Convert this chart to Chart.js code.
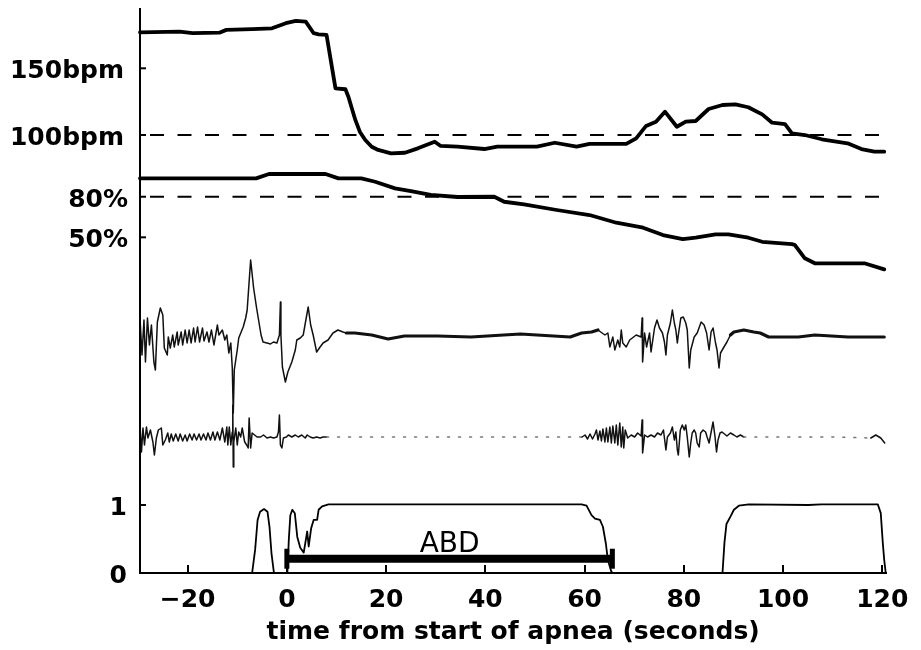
<!DOCTYPE html>
<html><head><meta charset="utf-8">
<script src="https://cdn.jsdelivr.net/npm/chart.js@4.4.1/dist/chart.umd.min.js"></script>
<style>html,body{margin:0;padding:0;background:#fff;}canvas{display:block;}</style>
</head><body>
<canvas id="c" width="921" height="650" style="width:921px;height:650px"></canvas>
<script>
// ---- data (time in seconds from start of apnea) ----
const xTicks = [-20, 0, 20, 40, 60, 80, 100, 120];
const hrTicks = [100, 150];
const spo2Ticks = [50, 80];
const effortTicks = [0, 1];
const timeRange = [-29.6, 120.4];
const hrThreshold = 100;
const spo2Threshold = 80;

const heartRate = [[-29.6,177],[-21.6,177.5],[-19,176.3],[-13.6,176.7],[-12.2,178.8],[-7,179.3],[-3,180],[-0.2,183.8],[1.8,185.5],[3.8,185],[5.4,176.3],[6.4,175.5],[8,175],[9.8,135],[11.8,134.3],[12.4,128.7],[13.8,111.3],[14.7,102.5],[15.8,96.3],[17.1,91.2],[18.4,88.8],[21,86.3],[23.8,86.7],[26.4,90],[29.8,95],[31,91.8],[34.4,91.3],[39.8,89.5],[42.4,91.3],[50.4,91.3],[54,94.2],[58.4,91.3],[61,93.3],[68.4,93.3],[70.4,97.5],[72.4,106.8],[74.4,110],[76.2,117.5],[78.6,106.2],[80.4,110],[82.4,110.5],[85,119.5],[87.8,122.5],[90.4,123],[93,120.8],[95.8,115.5],[97.8,109.2],[100.4,108.2],[101.8,101.3],[104.4,100],[107.8,96.8],[113,93.8],[115.8,89.5],[118.4,87.5],[120.4,87.5]];

const spo2 = [[-29.6,93.6],[-6.2,93.6],[-3.6,96.8],[7.8,96.8],[10.4,93.6],[15,93.6],[17.8,91.1],[21.8,86.2],[25,84.2],[29,81.3],[34.4,79.8],[41.8,80],[43.8,76.3],[47.8,74.4],[54.4,70.2],[61,66.5],[66.4,60.8],[71.8,57.1],[75.8,51.7],[79.8,48.7],[82.4,49.7],[86.4,52.2],[89,52.2],[93,49.7],[95.8,46.7],[101.8,45],[102.4,44.3],[104.4,34.5],[106.4,30.8],[116.4,30.8],[120.4,26.3]];

// respiratory traces, arbitrary units around baseline
const chest = [[-29.6,18],[-29.2,-19],[-28.8,16],[-28.5,-26],[-28.1,18],[-27.7,-9],[-27.3,11],[-26.8,-26],[-26.5,-34],[-26.1,14],[-25.5,28],[-25,21],[-24.7,-12],[-24.1,-19],[-23.9,-1],[-23.5,-12],[-23,1],[-22.7,-11],[-22.1,4],[-21.9,-9],[-21.3,4],[-21,-9],[-20.5,6],[-20.1,-7],[-19.7,6],[-19.3,-7],[-18.8,8],[-18.5,-6],[-18,9],[-17.6,-6],[-17,8],[-16.7,-5],[-16.1,4],[-15.7,-6],[-15.2,6],[-14.7,-9],[-14,11],[-13.7,1],[-13,6],[-12.5,-4],[-12.1,1],[-11.7,-17],[-11.3,-7],[-11,-32],[-10.8,-77],[-10.6,-34],[-10.3,-24],[-10,-14],[-9.7,-2],[-8.8,9],[-8.3,18],[-8,26],[-7.3,76],[-6.7,48],[-6.1,28],[-5.7,16],[-5.2,1],[-4.8,-6],[-4,-7],[-3.3,-8],[-2.7,-6],[-2,-7],[-1.5,1],[-1.3,34],[-1.2,1],[-0.9,-31],[-0.3,-46],[0.2,-36],[1,-26],[1.7,-14],[2,-4],[2.7,-2],[3.3,1],[3.9,18],[4.3,29],[4.8,11],[5.3,1],[6,-16],[6.7,-11],[7.3,-7],[8.3,-4],[9.3,3],[10.3,6],[11.3,4],[12,3],[13.7,3],[17.1,1],[20.4,-3],[23.7,0],[30.4,0],[37.1,-1],[43.7,1],[47.1,2],[50.4,1],[57.1,-1],[59.4,3],[61.4,4],[62.7,6],[64.1,1],[64.7,3],[65.1,-11],[65.7,-1],[66.1,-14],[66.7,-4],[67.1,-11],[67.4,6],[67.7,-7],[68.4,-11],[69.1,-4],[70.4,1],[71.4,-1],[71.6,18],[71.7,-26],[72.1,3],[72.5,-11],[73.1,3],[73.4,-16],[74.1,8],[74.6,16],[75.1,8],[75.7,3],[76.1,-6],[76.4,-19],[76.7,1],[77.3,13],[77.7,26],[78.1,13],[78.4,6],[78.7,-7],[78.9,1],[79.4,18],[79.9,19],[80.4,13],[80.7,6],[81.1,-32],[81.4,-14],[82.1,-1],[82.7,3],[83.5,14],[84.1,11],[84.6,3],[85.1,-14],[85.5,4],[85.9,8],[86.4,-7],[86.7,-14],[87.1,-32],[87.4,-17],[88.1,-11],[88.7,-6],[89.4,1],[90.1,4],[92.1,6],[94.1,4],[95.4,3],[97.1,-1],[103.1,-1],[106.4,1],[113.1,-1],[120.4,-1]];

const abdomen = [[-29.6,12],[-29.3,-15],[-29,9],[-28.7,-8],[-28.3,10],[-28,-1],[-27.5,7],[-27,-5],[-26.7,-18],[-26.3,-1],[-25.9,7],[-25.3,9],[-25,-8],[-24.5,-3],[-24,4],[-23.7,-5],[-23.3,3],[-22.9,-4],[-22.4,3],[-21.9,-4],[-21.5,3],[-21,-4],[-20.5,2],[-20.1,-4],[-19.6,3],[-19.1,-3],[-18.7,3],[-18.2,-3],[-17.7,3],[-17.3,-3],[-16.8,3],[-16.3,-3],[-15.9,4],[-15.4,-3],[-14.9,5],[-14.5,-3],[-14,5],[-13.5,-3],[-13,9],[-12.5,-5],[-12.1,10],[-11.9,-8],[-11.6,10],[-11.3,-8],[-11,5],[-10.9,32],[-10.8,-30],[-10.7,-5],[-10.3,9],[-10,-8],[-9.7,5],[-9.3,0],[-9,9],[-8.5,-5],[-8.1,-8],[-7.8,-11],[-7.6,19],[-7.3,-11],[-7,4],[-6.5,2],[-6,0],[-5.3,0],[-4.7,2],[-4,-1],[-3.3,0],[-2.7,-1],[-2,0],[-1.7,5],[-1.5,22],[-1.3,-8],[-1,-11],[-0.7,-1],[-0.1,0],[0.3,2],[1,0],[1.7,2],[2.3,0],[3,2],[3.7,-1],[4.1,2],[4.7,0],[5.3,-1],[6,0],[6.7,-1],[7.3,0],[8,0],[20,0],[35,0],[50,0],[59.5,0],[60.1,2],[60.6,-2],[61.1,3],[61.6,-2],[62.1,3],[62.4,7],[62.7,-3],[63.1,6],[63.4,-4],[63.7,8],[64.1,-5],[64.4,9],[64.7,-5],[65.1,10],[65.4,-6],[65.7,11],[66.1,-6],[66.4,12],[66.7,-8],[67.1,14],[67.4,-10],[67.7,10],[67.9,-11],[68.2,7],[68.7,-1],[69.4,2],[70.1,0],[70.7,4],[71.4,1],[71.6,17],[71.7,-16],[72.1,2],[72.7,0],[73.4,2],[74.1,0],[74.7,4],[75.4,2],[75.9,7],[76.4,-13],[76.7,0],[77.3,4],[77.7,10],[78.1,-3],[78.4,5],[78.7,-13],[78.9,-18],[79.3,7],[79.7,12],[80.1,7],[80.4,12],[80.7,0],[81.1,-20],[81.4,-6],[81.7,4],[82.1,7],[82.4,4],[82.7,-6],[83.1,-10],[83.4,4],[83.9,7],[84.4,5],[84.7,0],[85.1,-6],[85.4,2],[85.9,15],[86.3,0],[86.6,-15],[86.9,-3],[87.3,4],[87.7,5],[88.2,3],[88.7,1],[89.4,4],[90.1,2],[90.7,0],[91.4,2],[92.1,0],[100,0],[110,0],[117.7,-1],[118.7,2],[119.7,-1],[120.5,-6]];

// normalised effort (0..1)
const effort = [[-29.6,0],[-7.0,0],[-6.4,0.34],[-5.9,0.78],[-5.4,0.9],[-4.6,0.94],[-3.9,0.9],[-3.5,0.68],[-3.1,0.29],[-2.6,0],[0.1,0],[0.4,0.5],[0.7,0.85],[1.1,0.93],[1.6,0.88],[2.1,0.53],[2.7,0.37],[3.4,0.3],[4.1,0.61],[4.4,0.39],[4.9,0.66],[5.4,0.78],[6.1,0.78],[6.4,0.93],[7.1,0.98],[8.4,1.01],[48,1.01],[59.4,1.01],[60.4,0.99],[61.4,0.85],[62.1,0.8],[63.1,0.78],[63.7,0.68],[64.3,0.43],[64.7,0.19],[65.4,0.02],[65.7,0],[87.8,0],[88.2,0.45],[88.6,0.72],[89.4,0.83],[90.1,0.93],[91.1,0.99],[93.1,1.01],[105.1,1.0],[107.7,1.01],[119.1,1.01],[119.7,0.88],[120.1,0.45],[120.4,0.19],[120.7,0]];

const abdInterval = [0, 65.6];
const abdLevel = 0.21;
const abdText = 'ABD';

// ---- chart ----
const pts = a => a.map(([x, y]) => ({x, y}));
const inAny = (ranges, a, b) => ranges.some(([lo, hi]) => a >= lo && b <= hi);
const chestQuiet = [[12, 62.7], [89.4, 121]];
const abdQuiet = [[8, 59.5], [92.1, 117.7]];
const BOLD = {family: 'DejaVu Sans', weight: 'bold', size: 25, lineHeight: 1.2};

const base = {pointRadius: 0, borderColor: '#000', fill: false, tension: 0, clip: false,
  borderJoinStyle: 'round', borderCapStyle: 'round'};

const datasets = [
  {...base, label: 'HR', yAxisID: 'yHR', data: pts(heartRate), borderWidth: 3.8},
  {...base, label: 'SpO2', yAxisID: 'ySpO2', data: pts(spo2), borderWidth: 3.8},
  {...base, label: 'HR threshold', yAxisID: 'yHR', borderWidth: 2, borderCapStyle: 'butt',
    borderDash: [14, 13.5], borderDashOffset: 17.5,
    data: timeRange.map(x => ({x, y: hrThreshold}))},
  {...base, label: 'SpO2 threshold', yAxisID: 'ySpO2', borderWidth: 2, borderCapStyle: 'butt',
    borderDash: [14, 13.5], borderDashOffset: 17.5,
    data: timeRange.map(x => ({x, y: spo2Threshold}))},
  {...base, label: 'chest', yAxisID: 'yC', data: pts(chest), borderWidth: 1.5, borderColor: '#111',
    segment: {borderWidth: c => inAny(chestQuiet, c.p0.parsed.x, c.p1.parsed.x) ? 3.2 : undefined}},
  {...base, label: 'abdomen', yAxisID: 'yA', data: pts(abdomen), borderWidth: 1.5, borderColor: '#111',
    segment: {
      borderDash: c => inAny(abdQuiet, c.p0.parsed.x, c.p1.parsed.x) ? [2, 9] : undefined,
      borderColor: c => inAny(abdQuiet, c.p0.parsed.x, c.p1.parsed.x) ? '#777' : undefined
    }},
  {...base, label: 'effort', yAxisID: 'yE', data: pts(effort), borderWidth: 1.8},
  {...base, label: 'ABD', yAxisID: 'yE', borderWidth: 8, borderCapStyle: 'butt',
    data: abdInterval.map(x => ({x, y: abdLevel})),
    pointRadius: 10, pointStyle: 'line', pointRotation: 90, pointBorderWidth: 5, pointBorderColor: '#000'}
];

const overlay = {
  id: 'overlay',
  afterDraw(chart) {
    const {ctx, chartArea: a, scales} = chart;
    ctx.save();
    ctx.strokeStyle = '#000';
    ctx.fillStyle = '#000';
    ctx.lineWidth = 2;
    ctx.lineCap = 'butt';
    ctx.beginPath();
    ctx.moveTo(a.left, a.top);
    ctx.lineTo(a.left, a.bottom + 1);
    ctx.stroke();
    // inward x ticks
    xTicks.forEach(v => {
      const px = Math.round(scales.x.getPixelForValue(v));
      ctx.beginPath(); ctx.moveTo(px, a.bottom); ctx.lineTo(px, a.bottom - 8); ctx.stroke();
    });
    // inward y ticks and labels
    const groups = [
      ['yHR', hrTicks, v => v + 'bpm', 124],
      ['ySpO2', spo2Ticks, v => v + '%', 128],
      ['yE', effortTicks, v => String(v), 127]
    ];
    ctx.font = 'bold 25px "DejaVu Sans"';
    ctx.textAlign = 'right';
    ctx.textBaseline = 'alphabetic';
    groups.forEach(([id, ticks, fmt, rx]) => {
      ticks.forEach(v => {
        const py = scales[id].getPixelForValue(v);
        ctx.beginPath(); ctx.moveTo(a.left, py); ctx.lineTo(a.left + 6, py); ctx.stroke();
        ctx.fillText(fmt(v), rx, py + 10);
      });
    });
    // ABD label
    ctx.font = '28px "DejaVu Sans"';
    ctx.textAlign = 'center';
    ctx.fillText(abdText, scales.x.getPixelForValue((abdInterval[0] + abdInterval[1]) / 2),
      scales.yE.getPixelForValue(0.31));
    ctx.restore();
  }
};

new Chart(document.getElementById('c'), {
  type: 'line',
  data: {datasets},
  options: {
    responsive: false,
    devicePixelRatio: 1,
    animation: false,
    events: [],
    layout: {autoPadding: false, padding: {left: 140, right: 29, top: 8, bottom: 0}},
    plugins: {legend: {display: false}, tooltip: {enabled: false}, title: {display: false}},
    scales: {
      x: {
        type: 'linear', min: -29.6, max: 120.8,
        afterBuildTicks: s => { s.ticks = xTicks.map(value => ({value})); },
        afterFit: s => { s.height = 77; },
        grid: {display: false, drawTicks: false},
        border: {display: true, color: '#000', width: 2},
        ticks: {font: BOLD, color: '#000', padding: 12.5, maxRotation: 0, autoSkip: false,
          callback: v => v < 0 ? '\u2212' + Math.abs(v) : String(v)},
        title: {display: true, text: 'time from start of apnea (seconds)', color: '#000',
          font: BOLD, padding: {top: 0, bottom: 3}}
      },
      yHR: {type: 'linear', display: false, min: -228.3, max: 195.2},
      ySpO2: {type: 'linear', display: false, min: -198.1, max: 219.5},
      yC: {type: 'linear', display: false, min: -237, max: 328},
      yA: {type: 'linear', display: false, min: -136, max: 429},
      yE: {type: 'linear', display: false, min: 0, max: 8.309}
    }
  },
  plugins: [overlay]
});
</script>
</body></html>
